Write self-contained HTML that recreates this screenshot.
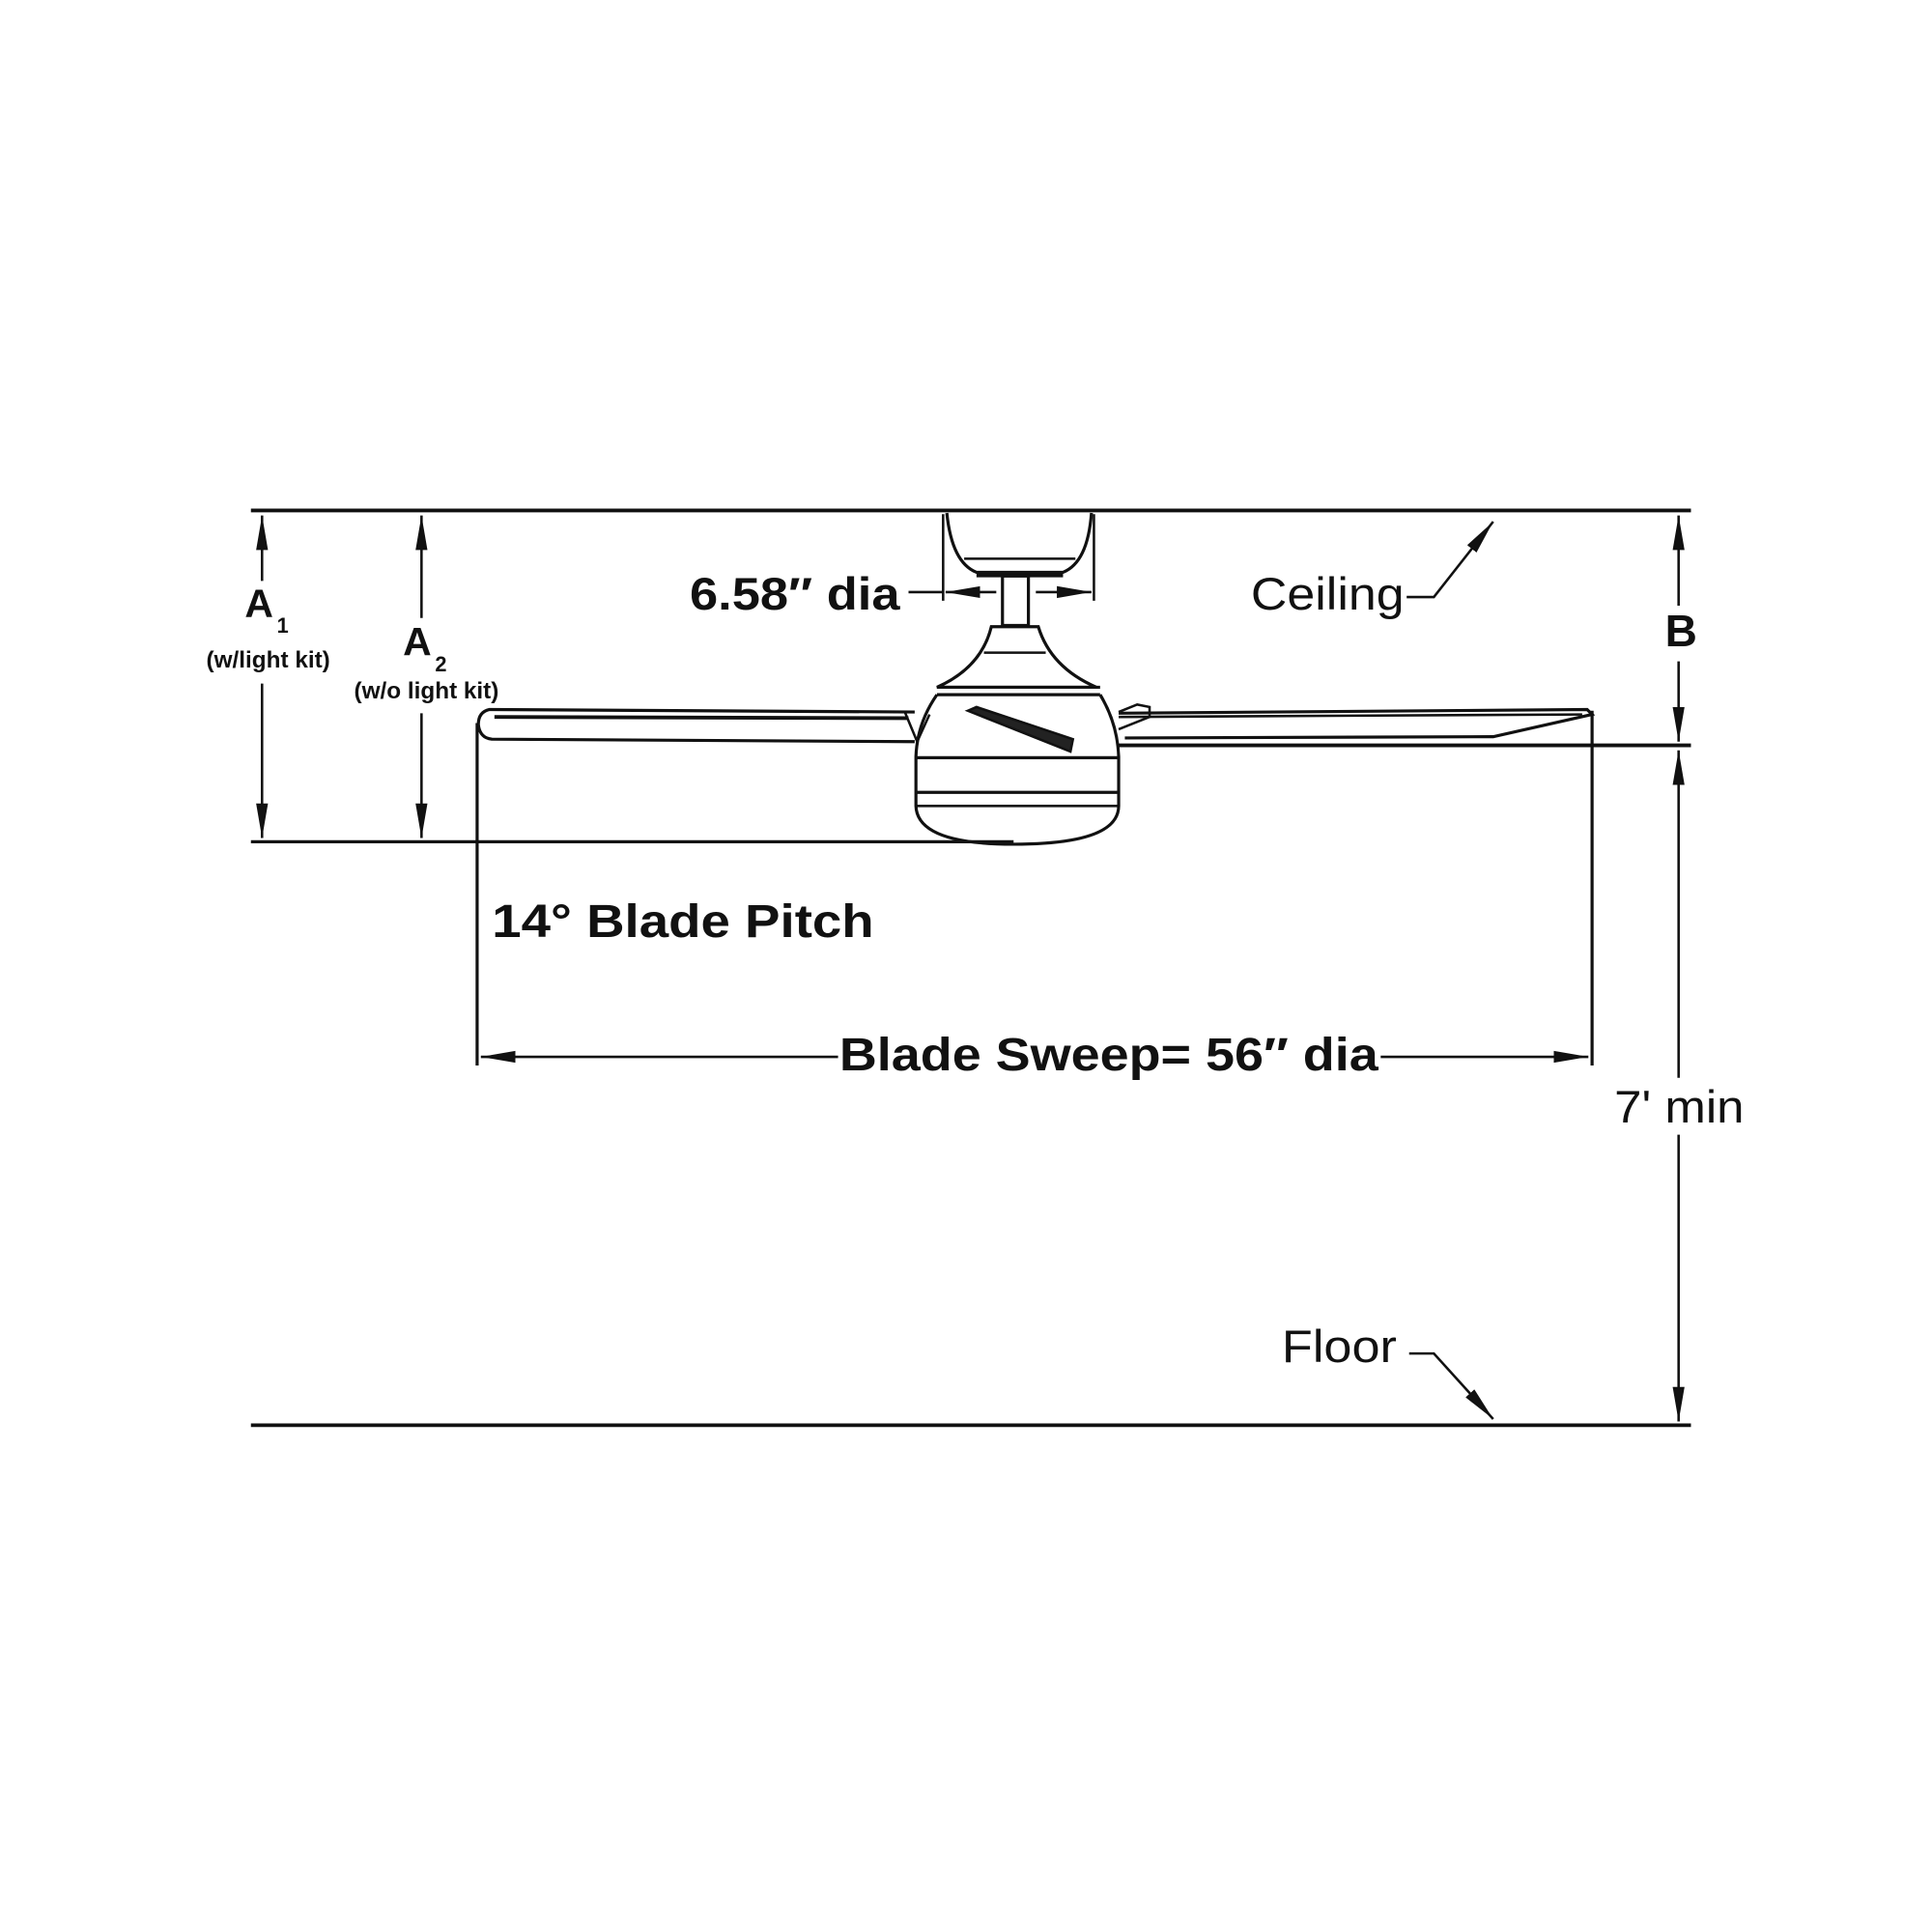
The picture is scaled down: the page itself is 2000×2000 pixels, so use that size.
<!DOCTYPE html>
<html><head><meta charset="utf-8"><style>
html,body{margin:0;padding:0;background:#fff;}
svg{display:block;}
text{font-family:"Liberation Sans",Arial,sans-serif;fill:#111;}
</style></head><body>
<svg width="2000" height="2000" viewBox="0 0 1563 1563" xmlns="http://www.w3.org/2000/svg">
<defs>
<marker id="ar2" viewBox="0 0 10 10" refX="10" refY="5" markerWidth="28" markerHeight="12" markerUnits="userSpaceOnUse" orient="auto-start-reverse" preserveAspectRatio="none">
<path d="M0,1 L10,5 L0,9 z" fill="#111"/></marker>
</defs>
<g stroke="#111" fill="none" stroke-width="3">
<line x1="203" y1="413" x2="1368" y2="413"/>
<line x1="203" y1="1153" x2="1368" y2="1153"/>
<line x1="203" y1="681" x2="820" y2="681" stroke-width="2.5"/>
<line x1="905" y1="603" x2="1368" y2="603" stroke-width="3"/>
<line x1="212" y1="417" x2="212" y2="470" stroke-width="2" marker-start="url(#ar2)"/>
<line x1="212" y1="553" x2="212" y2="678" stroke-width="2" marker-end="url(#ar2)"/>
<line x1="341" y1="417" x2="341" y2="500" stroke-width="2" marker-start="url(#ar2)"/>
<line x1="341" y1="577" x2="341" y2="678" stroke-width="2" marker-end="url(#ar2)"/>
<line x1="1358" y1="417" x2="1358" y2="490" stroke-width="2" marker-start="url(#ar2)"/>
<line x1="1358" y1="535" x2="1358" y2="600" stroke-width="2" marker-end="url(#ar2)"/>
<line x1="1358" y1="607" x2="1358" y2="872" stroke-width="2" marker-start="url(#ar2)"/>
<line x1="1358" y1="918" x2="1358" y2="1150" stroke-width="2" marker-end="url(#ar2)"/>
<line x1="386" y1="585" x2="386" y2="862" stroke-width="2.5"/>
<line x1="1288" y1="575" x2="1288" y2="862" stroke-width="2.5"/>
<line x1="389" y1="855" x2="678" y2="855" stroke-width="2" marker-start="url(#ar2)"/>
<line x1="1117" y1="855" x2="1285" y2="855" stroke-width="2" marker-end="url(#ar2)"/>
<line x1="763" y1="416" x2="763" y2="486" stroke-width="2"/>
<line x1="885" y1="416" x2="885" y2="486" stroke-width="2"/>
<line x1="735" y1="479" x2="763" y2="479" stroke-width="2"/>
<line x1="765" y1="479" x2="806" y2="479" stroke-width="2" marker-start="url(#ar2)"/>
<line x1="838" y1="479" x2="883" y2="479" stroke-width="2" marker-end="url(#ar2)"/>
<polyline points="1138,483 1160,483 1208,422" stroke-width="2" marker-end="url(#ar2)"/>
<polyline points="1140,1095 1160,1095 1208,1148" stroke-width="2" marker-end="url(#ar2)"/>
<path d="M766,415 Q770,455 790,463 L860,463 Q880,455 883,415" stroke-width="2.5"/>
<line x1="780" y1="452" x2="870" y2="452" stroke-width="2"/>
<line x1="790" y1="465" x2="860" y2="465" stroke-width="4"/>
<rect x="811" y="466" width="21" height="40" stroke-width="2.5"/>
<path d="M802,507 L840,507 Q850,540 887,556 L758,556 Q794,540 802,507 Z" stroke-width="2.5"/>
<line x1="796" y1="528" x2="846" y2="528" stroke-width="2"/>
<line x1="758" y1="556" x2="890" y2="556" stroke-width="2.5"/>
<line x1="758" y1="562" x2="890" y2="562" stroke-width="2.5"/>
<path d="M758,562 Q742,585 741,612 L741,652 Q742,683 820,683 Q905,683 905,652 L905,612 Q904,585 890,562" stroke-width="2.5"/>
<line x1="741" y1="613" x2="905" y2="613" stroke-width="2.5"/>
<line x1="741" y1="641" x2="905" y2="641" stroke-width="2.5"/>
<line x1="741" y1="652" x2="905" y2="652" stroke-width="2"/>
<path d="M783,575 L790,572 L868,598 L866,608 Z" fill="#222" stroke-width="2"/>
<path d="M740,576 L396,574 Q387,576 387,586 Q388,597 398,598 L740,600" stroke-width="2.5"/>
<line x1="400" y1="580" x2="735" y2="581" stroke-width="3"/>
<path d="M732,576 L742,600 L752,578" stroke-width="2"/>
<path d="M905,577 L1284,574 L1288,578 L1208,596 L910,597" stroke-width="2.5"/>
<line x1="905" y1="580" x2="1280" y2="578" stroke-width="2"/>
<path d="M905,576 L920,570 L930,572 L930,580 L905,590" stroke-width="2"/>
</g>
<text x="558" y="493" font-size="37" font-weight="bold" textLength="170" lengthAdjust="spacingAndGlyphs">6.58″ dia</text>
<text x="1012" y="493" font-size="37" textLength="124" lengthAdjust="spacingAndGlyphs">Ceiling</text>
<text x="1360" y="523" font-size="36" font-weight="bold" text-anchor="middle">B</text>
<text x="198" y="499" font-size="32" font-weight="bold">A</text>
<text x="224" y="512" font-size="17" font-weight="bold">1</text>
<text x="217" y="540" font-size="19" font-weight="bold" text-anchor="middle">(w/light kit)</text>
<text x="326" y="530" font-size="32" font-weight="bold">A</text>
<text x="352" y="543" font-size="17" font-weight="bold">2</text>
<text x="345" y="565" font-size="19" font-weight="bold" text-anchor="middle">(w/o light kit)</text>
<text x="398" y="758" font-size="38" font-weight="bold" textLength="309" lengthAdjust="spacingAndGlyphs">14° Blade Pitch</text>
<text x="679" y="866" font-size="38" font-weight="bold" textLength="436" lengthAdjust="spacingAndGlyphs">Blade Sweep= 56″ dia</text>
<text x="1306" y="908" font-size="37" textLength="105" lengthAdjust="spacingAndGlyphs">7' min</text>
<text x="1037" y="1102" font-size="37" textLength="93" lengthAdjust="spacingAndGlyphs">Floor</text>
</svg>
</body></html>
